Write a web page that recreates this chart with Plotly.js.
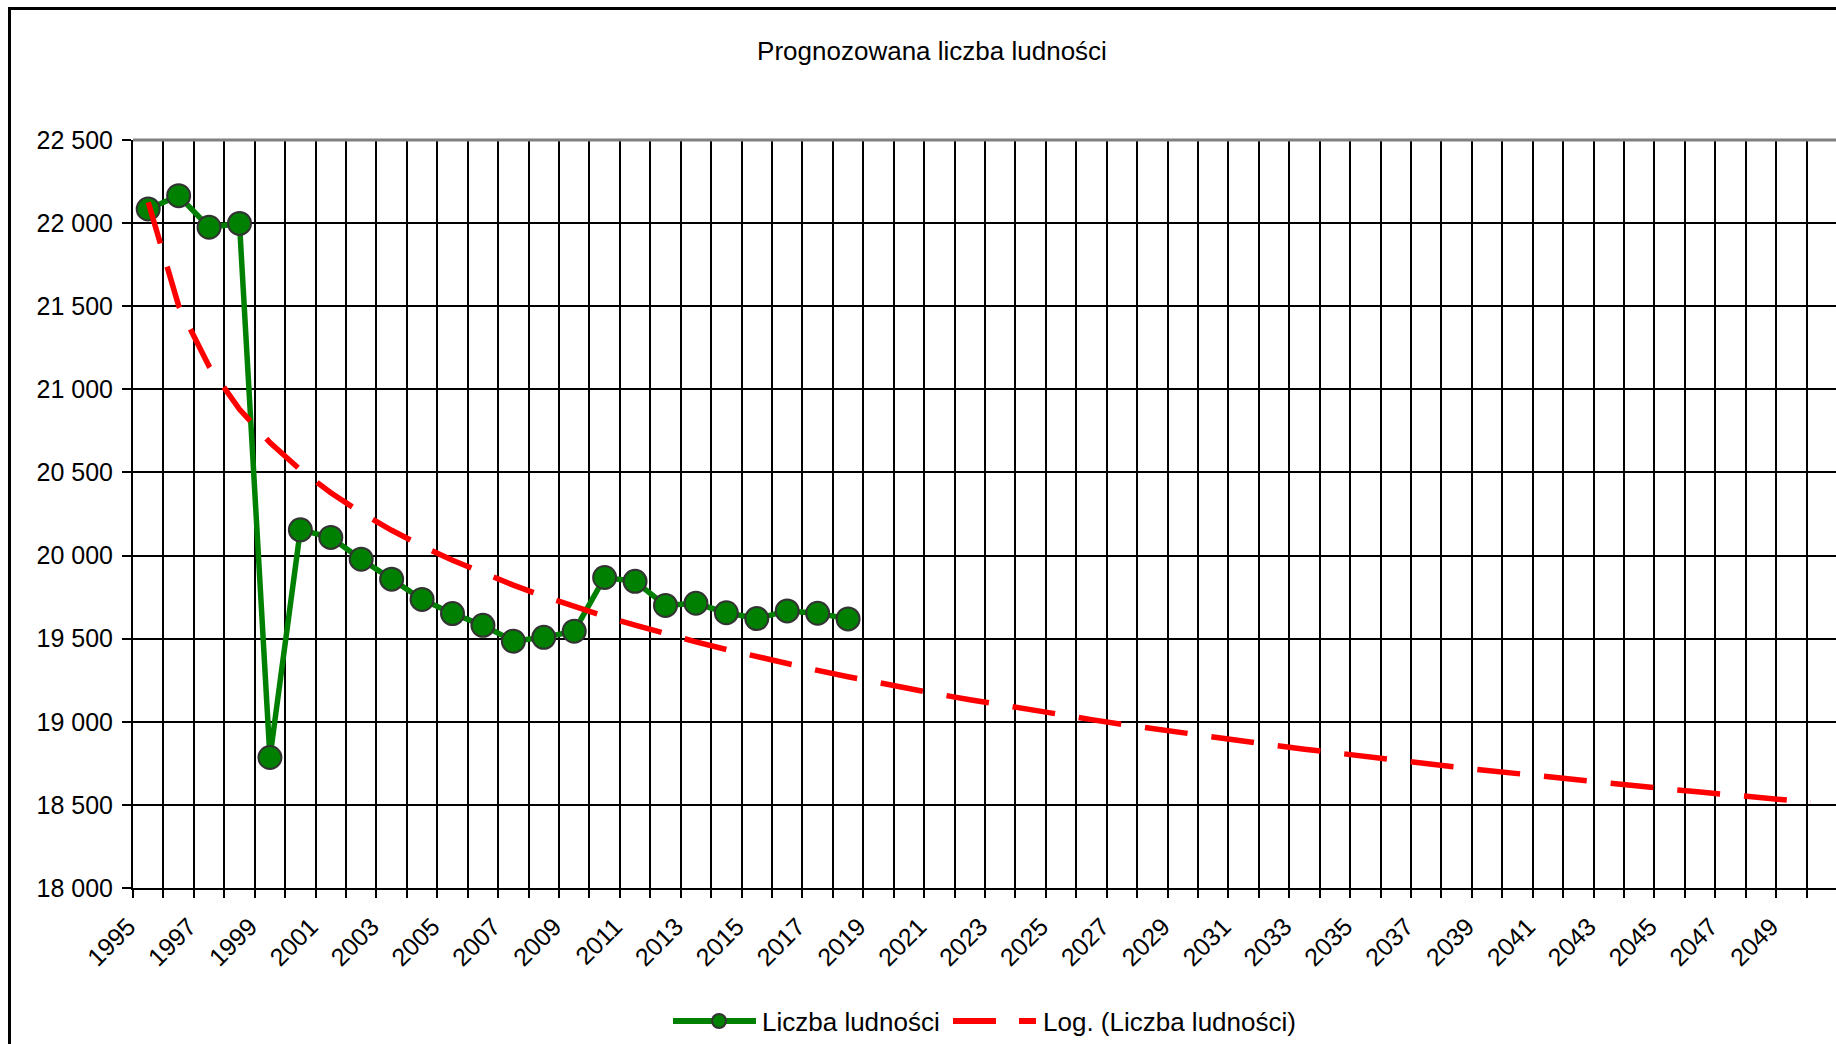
<!DOCTYPE html>
<html>
<head>
<meta charset="utf-8">
<script src="https://cdn.plot.ly/plotly-3.0.1.min.js"></script>
<style>
html,body{margin:0;padding:0;overflow:hidden;background:#fff;width:1836px;height:1044px}
#chart{position:absolute;left:0;top:0;width:1850px;height:1044px}
#frame{position:absolute;left:8px;top:7px;width:1900px;height:1100px;border-left:3px solid #000;border-top:3px solid #000;pointer-events:none;z-index:5}
</style>
</head>
<body>
<div id="chart"></div>
<div id="frame"></div>
<script>
// ---- data ----
const chartTitle = 'Prognozowana liczba ludności';
const seriesName = 'Liczba ludności';
const trendName = 'Log. (Liczba ludności)';

const years = [1995,1996,1997,1998,1999,2000,2001,2002,2003,2004,2005,2006,
               2007,2008,2009,2010,2011,2012,2013,2014,2015,2016,2017,2018];
const population = [22085,22165,21975,21998,18785,20155,20109,19978,19858,19736,19651,19580,
                    19485,19508,19545,19868,19845,19700,19713,19656,19621,19667,19653,19619];

const trendYears = [1995,1996,1997,1998,1999,2000,2001,2002,2003,2004,2005,2006,2007,2008,
                    2009,2010,2011,2012,2013,2014,2015,2016,2017,2018,2019,2020,2021,2022,
                    2023,2024,2025,2026,2027,2028,2029,2030,2031,2032,2033,2034,2035,2036,
                    2037,2038,2039,2040,2041,2042,2043,2044,2045,2046,2047,2048,2049,2049.64];
const trendValues = [22125,21503,21139,20880,20680,20516,20378,20258,20152,20057,19972,19894,
                     19822,19755,19693,19635,19581,19529,19481,19435,19391,19349,19309,19271,
                     19234,19199,19165,19133,19101,19071,19041,19013,18985,18958,18932,18907,
                     18882,18858,18835,18812,18790,18769,18747,18727,18707,18687,18668,18649,
                     18630,18612,18594,18577,18560,18543,18526,18516];

const labelYears = [1995,1997,1999,2001,2003,2005,2007,2009,2011,2013,2015,2017,2019,2021,
                    2023,2025,2027,2029,2031,2033,2035,2037,2039,2041,2043,2045,2047,2049];
const yTicks = [18000,18500,19000,19500,20000,20500,21000,21500,22000,22500];

// ---- layout geometry / style ----
const FONT = 'Liberation Sans, Arial, sans-serif';
const W = 1850, H = 1044;
const M = {l:133, r:13, t:140, b:156};
const PW = W - M.l - M.r, PH = H - M.t - M.b;
const px = x => (x - M.l) / PW;          // page x -> paper x
const py = y => (M.t + PH - y) / PH;     // page y -> paper y

const GREEN = '#008000', RED = '#ff0000';

const traces = [
  {
    x: years, y: population, name: seriesName, type: 'scatter', mode: 'lines+markers',
    line: {color: GREEN, width: 5.5},
    marker: {symbol: 'circle', size: 23, color: GREEN, line: {color: '#333333', width: 2}},
    showlegend: false, hoverinfo: 'x+y'
  },
  {
    x: trendYears, y: trendValues, name: trendName, type: 'scatter', mode: 'lines',
    line: {color: RED, width: 5.5, dash: '43px,24px'},
    showlegend: false, hoverinfo: 'x+y'
  }
];

const shapes = [
  // plot area top border (grey)
  {type:'line', xref:'paper', yref:'paper', x0:0, x1:1, y0:1, y1:1,
   line:{color:'#808080', width:3}, layer:'above'},
  // legend: series sample
  {type:'line', xref:'paper', yref:'paper', x0:px(673), x1:px(756), y0:py(1021), y1:py(1021),
   line:{color:GREEN, width:6}},
  {type:'circle', xref:'paper', yref:'paper', xsizemode:'pixel', ysizemode:'pixel',
   xanchor:px(719), yanchor:py(1021), x0:-7, x1:7, y0:-7, y1:7,
   fillcolor:GREEN, line:{color:'#333333', width:2}},
  // legend: trend sample
  {type:'line', xref:'paper', yref:'paper', x0:px(953), x1:px(1036), y0:py(1021), y1:py(1021),
   line:{color:RED, width:6, dash:'43px,23px'}}
];

const annotations = [
  {xref:'paper', yref:'paper', x:px(760), y:py(1022), xanchor:'left', yanchor:'middle',
   text:seriesName, showarrow:false, font:{family:FONT, size:26, color:'#000'}},
  {xref:'paper', yref:'paper', x:px(1041), y:py(1022), xanchor:'left', yanchor:'middle',
   text:trendName, showarrow:false, font:{family:FONT, size:26, color:'#000'}}
];

const layout = {
  width: W, height: H,
  margin: M,
  paper_bgcolor: 'rgba(0,0,0,0)', plot_bgcolor: '#ffffff',
  separators: ', ',
  showlegend: false,
  font: {family: FONT, color: '#000'},
  title: {text: chartTitle, xref: 'container', yref: 'container',
          x: 932 / W, y: 1 - 51 / H, xanchor: 'center', yanchor: 'middle',
          font: {family: FONT, size: 26, color: '#000'}},
  xaxis: {
    type: 'linear', range: [1994.5, 2050.5],
    tickmode: 'array', tickvals: labelYears, ticktext: labelYears.map(String),
    ticks: '', showgrid: false,
    tickangle: -45, ticklabelstandoff: 12, ticklabelshift: -20,
    tickfont: {family: FONT, size: 25, color: '#000'},
    minor: {tickmode: 'linear', tick0: 1994.5, dtick: 1,
            ticks: 'outside', ticklen: 8, tickwidth: 2, tickcolor: '#000',
            showgrid: true, gridcolor: '#000', gridwidth: 2},
    showline: true, linecolor: '#000', linewidth: 2,
    zeroline: false, fixedrange: true
  },
  yaxis: {
    range: [18000, 22500],
    tickmode: 'array', tickvals: yTicks, tickformat: ',d',
    ticks: 'outside', ticklen: 9, tickwidth: 2, tickcolor: '#000',
    showgrid: true, gridcolor: '#000', gridwidth: 2,
    showline: true, linecolor: '#000', linewidth: 2,
    zeroline: false, ticklabelstandoff: 4,
    tickfont: {family: FONT, size: 25, color: '#000'},
    fixedrange: true
  },
  shapes: shapes,
  annotations: annotations
};

Plotly.newPlot('chart', traces, layout, {displayModeBar: false, staticPlot: true});
</script>
</body>
</html>
